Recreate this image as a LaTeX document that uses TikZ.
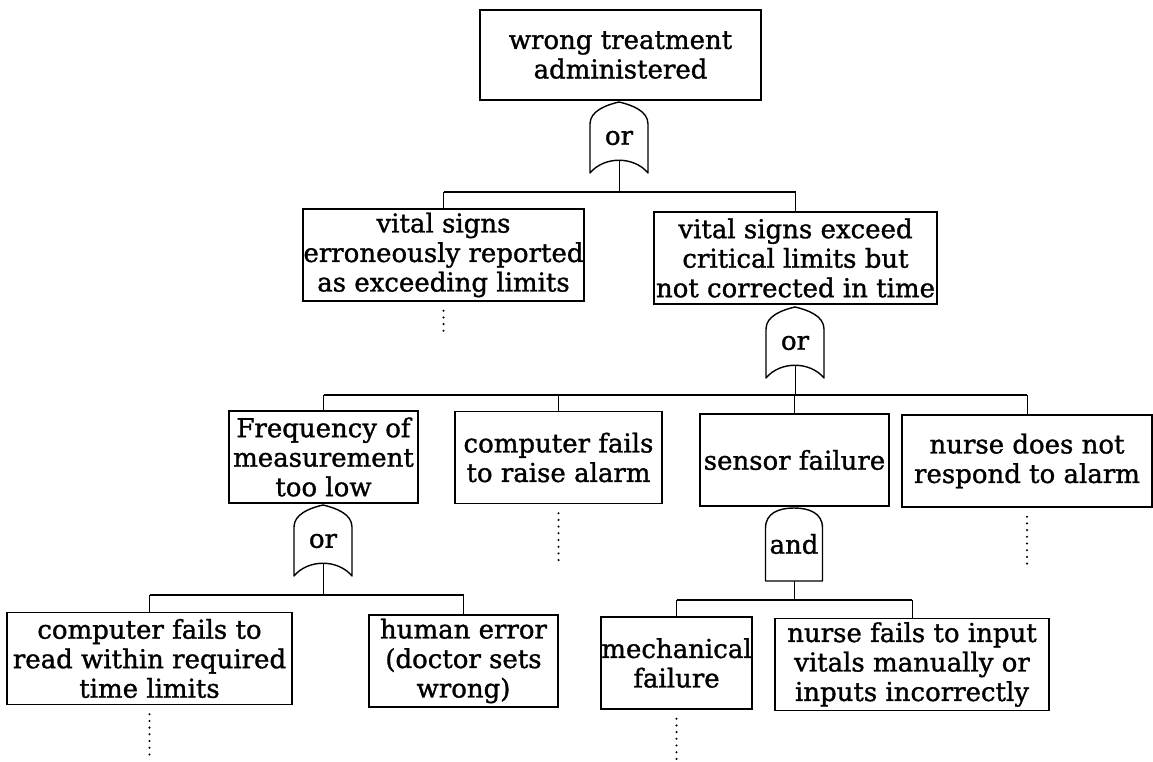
\documentclass[tikz,border=0pt]{standalone}
\usepackage{fontspec}
\setmainfont{DejaVu Serif}
\newfontfamily\evfont{DejaVu Serif}[FakeBold=1.2]
\begin{document}
\begin{tikzpicture}[x=1pt, y=-1pt,
    evbox/.style={draw, line width=1.4pt, align=center, inner sep=0pt,
        minimum height=92pt, font=\evfont\fontsize{26}{29.5}\selectfont},
    gatetext/.style={inner sep=0pt, font=\evfont\fontsize{26}{29.5}\selectfont},
    gateline/.style={line width=1.4pt, line join=round},
    bar/.style={line width=1.8pt},
    drop/.style={line width=0.9pt},
    dotline/.style={line width=2.3pt, line cap=round,
        dash pattern=on 0pt off 6.7pt, shorten <=9pt}]
    \useasboundingbox (0,0) rectangle (1153,762);

    % events
    \node[evbox, minimum width=281pt, minimum height=90pt] (wt) at (620.5,55) {wrong treatment\\administered};
    \node[evbox, minimum width=281pt] (ve) at (443.5,255) {vital signs\\erroneously reported\\as exceeding limits};
    \node[evbox, minimum width=283pt] (vc) at (795.5,258) {vital signs exceed\\critical limits but\\not corrected in time};
    \node[evbox, minimum width=189pt] (fm) at (323.5,457) {Frequency of\\measurement\\too low};
    \node[evbox, minimum width=207pt] (ca) at (558.5,457.5) {computer fails\\to raise alarm};
    \node[evbox, minimum width=189pt] (sf) at (794.5,460) {sensor failure};
    \node[evbox, minimum width=250pt] (nn) at (1027,461) {nurse does not\\respond to alarm};
    \node[evbox, minimum width=285pt] (cr) at (149.5,658.5) {computer fails to\\read within required\\time limits};
    \node[evbox, minimum width=189pt] (he) at (463.5,661) {human error\\(doctor sets\\wrong)};
    \node[evbox, minimum width=151pt] (mf) at (676.5,663) {mechanical\\failure};
    \node[evbox, minimum width=274pt] (ni) at (912,664.5) {nurse fails to input\\vitals manually or\\inputs incorrectly};

    % or gates
    \foreach \gx/\gy/\gname in {619/102/g1, 795/307/g2, 323/505/g3} {
        \begin{scope}[shift={(\gx,\gy)}]
            \draw[gateline] (-29,22) .. controls (-29,9) and (-13,3) .. (0,0)
                .. controls (13,3) and (29,9) .. (29,22) -- (29,71)
                .. controls (15,54) and (-15,54) .. (-29,71) -- cycle;
            \node[gatetext] (\gname) at (0,36) {or};
            \coordinate (\gname-out) at (0,58.5);
        \end{scope}
    }

    % and gate
    \begin{scope}[shift={(794,508)}]
        \draw[gateline] (-28.5,20) .. controls (-28.5,5) and (-15,0) .. (0,0)
            .. controls (15,0) and (28.5,5) .. (28.5,20) -- (28.5,73) -- (-28.5,73) -- cycle;
        \node[gatetext] (a1) at (0,36) {and};
        \coordinate (a1-out) at (0,73);
    \end{scope}

    % junctions
    \coordinate (j1) at (619,192);
    \coordinate (j2) at (795,395);
    \coordinate (j3) at (323,595);
    \coordinate (j4) at (794,600);

    \draw[drop] (g1-out) -- (j1);
    \draw[bar] (ve.north |- j1) -- (vc.north |- j1);
    \foreach \n in {ve, vc}
        \draw[drop] (\n.north |- j1) -- (\n.north);

    \draw[drop] (g2-out) -- (j2);
    \draw[bar] (fm.north |- j2) -- (nn.north |- j2);
    \foreach \n in {fm, ca, sf, nn}
        \draw[drop] (\n.north |- j2) -- (\n.north);

    \draw[drop] (g3-out) -- (j3);
    \draw[bar] (cr.north |- j3) -- (he.north |- j3);
    \foreach \n in {cr, he}
        \draw[drop] (\n.north |- j3) -- (\n.north);

    \draw[drop] (a1-out) -- (j4);
    \draw[bar] (mf.north |- j4) -- (ni.north |- j4);
    \foreach \n in {mf, ni}
        \draw[drop] (\n.north |- j4) -- (\n.north);

    % undeveloped branches
    \coordinate (ve-end) at (443.5,331);
    \coordinate (ca-end) at (558.5,561);
    \coordinate (nn-end) at (1027,566);
    \coordinate (cr-end) at (149.5,761);
    \coordinate (mf-end) at (676.5,761);
    \foreach \n in {ve, ca, nn, cr, mf}
        \draw[dotline] (\n.south) -- (\n-end);
\end{tikzpicture}
\end{document}
